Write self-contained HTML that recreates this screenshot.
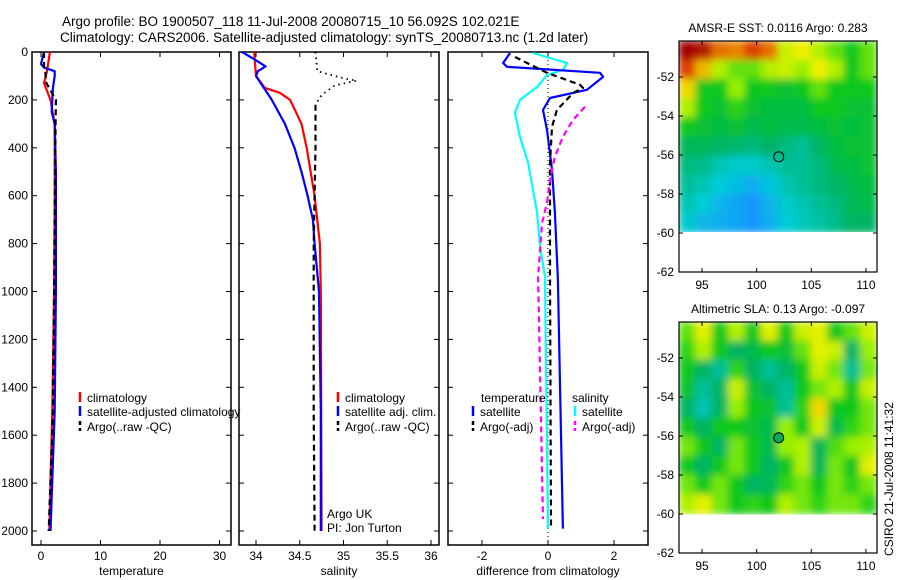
<!DOCTYPE html>
<html><head><meta charset="utf-8"><style>
body{margin:0;background:#fff;}
svg{display:block;font-family:"Liberation Sans",sans-serif;}
text{font-size:12px;fill:#000;}
</style></head><body>
<svg id="c" width="900" height="580" viewBox="0 0 900 580">
<g>
<text x="62" y="26" style="font-size:13.5px">Argo profile: BO 1900507_118 11-Jul-2008 20080715_10 56.092S 102.021E</text>
<text x="60" y="42" style="font-size:13.5px">Climatology: CARS2006. Satellite-adjusted climatology: synTS_20080713.nc (1.2d later)</text>
</g>
<defs><filter id="bl" x="0" y="0" width="1" height="1"><feGaussianBlur stdDeviation="4" edgeMode="duplicate"/></filter>
<clipPath id="cm1"><rect x="679" y="41" width="198" height="191"/></clipPath>
<clipPath id="cm2"><rect x="679" y="322" width="198" height="196"/></clipPath></defs>
<g id="root"></g>
<text transform="translate(893,556) rotate(-90)" x="0" y="0" style="font-size:12px">CSIRO 21-Jul-2008 11:41:32</text>
</svg>
<script>
// ---------- data ----------
const depthTicks=[0,200,400,600,800,1000,1200,1400,1600,1800,2000];
const tempTicks=[0,10,20,30];
const salTicks=[34,34.5,35,35.5,36];
const salTickLabels=["34","34.5","35","35.5","36"];
const diffTicks=[-2,0,2];
// temperature profiles
const tClimDepth=[0,50,80,130,200,300,600,1000,1500,2000];
const tClimVal=[1.5,1.2,1.0,0.5,1.6,2.3,2.3,2.2,1.9,1.4];
const tSatDepth=[0,50,65,80,100,150,250,300,500,1000,1500,2000];
const tSatVal=[0.5,0,0.5,2.3,2.3,2.0,1.8,2.3,2.5,2.5,2.3,1.6];
const tArgoDepth=[0,60,80,130,200,400,1000,1500,2000];
const tArgoVal=[0.5,0.5,0.7,0.9,2.5,2.4,2.2,2.0,1.3];
// salinity profiles
const sClimDepth=[0,100,150,170,200,300,400,600,800,1000,2000];
const sClimVal=[33.98,34.0,34.1,34.27,34.39,34.52,34.58,34.67,34.73,34.74,34.75];
const sSatDepth=[0,30,60,80,100,150,200,300,400,500,600,700,800,1000,1500,2000];
const sSatVal=[33.84,33.98,34.11,34.02,34.0,34.09,34.18,34.33,34.44,34.52,34.59,34.65,34.67,34.72,34.74,34.74];
const sRawDepth=[0,80,110,120,140,180,220];
const sRawVal=[34.68,34.7,35.0,35.15,34.9,34.75,34.68];
const sAdjDepth=[220,250,400,600,800,1000,1500,2000];
const sAdjVal=[34.68,34.68,34.68,34.67,34.66,34.66,34.66,34.67];
// difference profiles
const dTSatDepth=[4,46,62,87,104,158,192,242,325,492,671,950,1990];
const dTSatVal=[-1.15,-1.36,-1.24,1.58,1.67,1.18,0.06,-0.15,-0.03,0.12,0.21,0.3,0.45];
const dSSatDepth=[4,46,75,96,146,200,254,354,463,671,813,938,1990];
const dSSatVal=[-0.45,0.58,0.45,-0.03,-0.33,-0.85,-1.0,-0.85,-0.6,-0.33,-0.24,-0.09,0.0];
const dTArgoDepth=[21,87,137,150,171,242,313,463,938,1990];
const dTArgoVal=[-1.0,-0.03,0.97,1.06,0.76,0.27,0.12,0.06,0.06,0.09];
const dSArgoDepth=[229,283,354,438,533,629,713,938,1950];
const dSArgoVal=[1.12,0.76,0.45,0.21,0.06,-0.03,-0.18,-0.3,-0.15];
// maps
const lonTicks=[95,100,105,110];
const latTicks=[-52,-54,-56,-58,-60,-62];
const sstGrid=[
[.95,.92,.8,.78,.85,.8,.62,.65,.6,.55,.5,.55],
[.85,.72,.6,.55,.55,.6,.62,.58,.65,.6,.5,.55],
[.68,.5,.5,.58,.5,.5,.48,.5,.55,.5,.5,.5],
[.6,.5,.48,.52,.48,.47,.47,.47,.5,.5,.48,.48],
[.5,.48,.47,.48,.46,.47,.46,.46,.47,.48,.47,.48],
[.45,.45,.44,.43,.42,.44,.42,.40,.44,.47,.48,.48],
[.42,.41,.38,.36,.36,.38,.40,.40,.42,.46,.47,.48],
[.40,.38,.35,.33,.31,.34,.38,.40,.42,.44,.46,.47],
[.38,.35,.32,.30,.28,.32,.36,.38,.40,.42,.45,.46],
[.36,.32,.31,.30,.27,.31,.35,.37,.39,.41,.44,.44]];
const slaGrid=[
[.55,.64,.5,.6,.5,.64,.5,.62,.64,.5,.55,.62],
[.52,.6,.5,.44,.46,.5,.48,.55,.64,.62,.44,.58],
[.5,.44,.40,.52,.44,.40,.44,.5,.62,.56,.40,.56],
[.48,.40,.44,.62,.48,.44,.40,.5,.56,.6,.5,.62],
[.44,.38,.44,.58,.5,.48,.40,.52,.68,.5,.5,.56],
[.5,.44,.5,.5,.48,.46,.58,.5,.62,.46,.52,.56],
[.56,.5,.44,.56,.5,.46,.58,.6,.45,.54,.58,.6],
[.5,.44,.5,.56,.5,.44,.5,.6,.45,.56,.5,.64],
[.56,.5,.56,.5,.44,.45,.52,.56,.5,.56,.52,.56],
[.6,.64,.56,.5,.52,.5,.6,.56,.52,.56,.56,.52]];
const argoLon=102.02, argoLat=-56.09;

// ---------- helpers ----------
const NS="http://www.w3.org/2000/svg";
const root=document.getElementById('root');
function mk(tag,attrs,parent){const e=document.createElementNS(NS,tag);for(const k in attrs)e.setAttribute(k,attrs[k]);(parent||root).appendChild(e);return e;}
const yD=d=>52+d*0.2395;
function panel(name,x0,x1,xs,ticks,labels,xlabel,showDepth){
  const g=mk('g',{});
  
  
  const y0=52,y1=545;
  const fr=mk('rect',{x:x0,y:y0,width:x1-x0,height:y1-y0,fill:'none',stroke:'#000','stroke-width':1.5},g);
  
  
  ticks.forEach((t,i)=>{const x=xs(t);
    mk('line',{x1:x,x2:x,y1:y0,y2:y0+5,stroke:'#000'},g);
    mk('line',{x1:x,x2:x,y1:y1,y2:y1-5,stroke:'#000'},g);
    const tx=mk('text',{x:x,y:560,'text-anchor':'middle'},g);tx.textContent=labels[i];
    
    
  });
  depthTicks.forEach(d=>{const y=yD(d);
    mk('line',{x1:x0,x2:x0+5,y1:y,y2:y,stroke:'#000'},g);
    mk('line',{x1:x1,x2:x1-5,y1:y,y2:y,stroke:'#000'},g);
    if(showDepth){const tx=mk('text',{x:28,y:y+4,'text-anchor':'end'},g);tx.textContent=d;
      
      }
  });
  const xl=mk('text',{x:(x0+x1)/2,y:575,'text-anchor':'middle'},g);xl.textContent=xlabel;
  
  
  return g;
}
function prof(name,g,xs,depths,vals,color,dash,w){
  const pts=depths.map((d,i)=>xs(vals[i]).toFixed(1)+','+yD(d).toFixed(1)).join(' ');
  const p=mk('polyline',{points:pts,fill:'none',stroke:color,'stroke-width':w||2.2,'stroke-dasharray':dash||'none','stroke-linejoin':'round'},g);
  
  
}
function legend(g,x,y,color,label,dash){
  const l=mk('line',{x1:x,x2:x,y1:y-10,y2:y,stroke:color,'stroke-width':2.5,'stroke-dasharray':dash||'none'},g);
  
  
  const t=mk('text',{x:x+7,y:y},g);t.textContent=label;
  
  
}
// ---------- panel 1 temperature ----------
const xT=t=>41+t*5.95;
const g1=panel('temperature-panel',32,231,xT,tempTicks,tempTicks.map(String),'temperature',true);
prof('temp-climatology-line',g1,xT,tClimDepth,tClimVal,'#f00');
prof('temp-satellite-line',g1,xT,tSatDepth,tSatVal,'#00f');
prof('temp-argo-line',g1,xT,tArgoDepth,tArgoVal,'#000','6,4');
legend(g1,80,402,'#f00','climatology');
legend(g1,80,416,'#00f','satellite-adjusted climatology');
legend(g1,80,431,'#000','Argo(..raw -QC)','4,3');
// ---------- panel 2 salinity ----------
const xS=s=>256+(s-34)*87.5;
const g2=panel('salinity-panel',239,439,xS,salTicks,salTickLabels,'salinity',false);
prof('sal-climatology-line',g2,xS,sClimDepth,sClimVal,'#f00');
prof('sal-satellite-line',g2,xS,sSatDepth,sSatVal,'#00f');
prof('sal-argo-raw-line',g2,xS,sRawDepth,sRawVal,'#000','1.5,4',1.8);
prof('sal-argo-adj-line',g2,xS,sAdjDepth,sAdjVal,'#000','6,4');
legend(g2,338,402,'#f00','climatology');
legend(g2,338,416,'#00f','satellite adj. clim.');
legend(g2,338,431,'#000','Argo(..raw -QC)','4,3');
const a1=mk('text',{x:327,y:518},g2);a1.textContent='Argo UK';


const a2=mk('text',{x:327,y:532},g2);a2.textContent='PI: Jon Turton';


// ---------- panel 3 difference ----------
const xDf=v=>548+v*33;
const g3=panel('difference-panel',448,648,xDf,diffTicks,diffTicks.map(String),'difference from climatology',false);
const zl=mk('line',{x1:xDf(0),x2:xDf(0),y1:52,y2:545,stroke:'#000','stroke-width':1,'stroke-dasharray':'1,3'},g3);


prof('diff-sal-satellite-line',g3,xDf,dSSatDepth,dSSatVal,'#0ff');
prof('diff-temp-satellite-line',g3,xDf,dTSatDepth,dTSatVal,'#00f');
prof('diff-temp-argo-line',g3,xDf,dTArgoDepth,dTArgoVal,'#000','6,4');
prof('diff-sal-argo-line',g3,xDf,dSArgoDepth,dSArgoVal,'#f0f','6,4');
const lt=mk('text',{x:481,y:402},g3);lt.textContent='temperature';


const ls=mk('text',{x:572,y:402},g3);ls.textContent='salinity';


legend(g3,473,416,'#00f','satellite');
legend(g3,473,431,'#000','Argo(-adj)','4,3');
legend(g3,575,416,'#0ff','satellite');
legend(g3,575,431,'#f0f','Argo(-adj)','4,3');
// ---------- maps ----------
const cstops=[[.28,[20,150,255]],[.35,[0,205,215]],[.44,[0,180,100]],[.5,[10,200,30]],[.58,[150,240,0]],[.65,[240,240,0]],[.75,[240,160,0]],[.85,[220,60,0]],[.95,[160,0,0]]];
function cmap(v){if(v<=cstops[0][0])return 'rgb('+cstops[0][1]+')';
  for(let i=1;i<cstops.length;i++){if(v<=cstops[i][0]){const a=cstops[i-1],b=cstops[i],f=(v-a[0])/(b[0]-a[0]);
    return 'rgb('+a[1].map((c,k)=>Math.round(c+(b[1][k]-c)*f)).join(',')+')';}}
  return 'rgb('+cstops[cstops.length-1][1]+')';}
const xLon=l=>702+(l-95)*10.93;
function map(name,top,title,grid,clip,ptFill){
  const g=mk('g',{});
  
  
  const latRef=top+36; // y of -52
  const yLat=la=>latRef+(-52-la)*19.5;
  const x0=679,x1=877,yb=yLat(-60),ybot=yLat(-62);
  const tt=mk('text',{x:(x0+x1)/2,y:top-9,'text-anchor':'middle'},g);tt.textContent=title;
  
  
  const hg=mk('g',{'clip-path':'url(#'+clip+')'},g);
  const ig=mk('g',{filter:'url(#bl)'},hg);
  const rows=grid.length,cols=grid[0].length,cw=(x1-x0)/cols,ch=(yb-top)/rows;
  grid.forEach((row,r)=>row.forEach((v,c)=>{
    const cell=mk('rect',{x:x0+c*cw-0.5,y:top+r*ch-0.5,width:cw+1,height:ch+1,fill:cmap(v)},ig);
    
    
  }));
  const fr=mk('rect',{x:x0,y:top,width:x1-x0,height:ybot-top,fill:'none',stroke:'#000','stroke-width':1.2},g);
  
  
  lonTicks.forEach(l=>{const x=xLon(l);
    mk('line',{x1:x,x2:x,y1:top,y2:top+4,stroke:'#000'},g);
    mk('line',{x1:x,x2:x,y1:ybot,y2:ybot-4,stroke:'#000'},g);
    const t=mk('text',{x:x,y:ybot+17,'text-anchor':'middle'},g);t.textContent=l;
    
    });
  latTicks.forEach(la=>{const y=yLat(la);
    mk('line',{x1:x0,x2:x0+4,y1:y,y2:y,stroke:'#000'},g);
    mk('line',{x1:x1,x2:x1-4,y1:y,y2:y,stroke:'#000'},g);
    const t=mk('text',{x:674,y:y+4,'text-anchor':'end'},g);t.textContent=la;
    
    });
  const c=mk('circle',{cx:xLon(argoLon),cy:yLat(argoLat),r:5,fill:ptFill,stroke:'#000','stroke-width':1},g);
  
  
}
map('sst-map',41,'AMSR-E SST: 0.0116 Argo: 0.283',sstGrid,'cm1','none');
map('sla-map',322,'Altimetric SLA: 0.13 Argo: -0.097',slaGrid,'cm2','#00b050');
</script>
</body></html>
